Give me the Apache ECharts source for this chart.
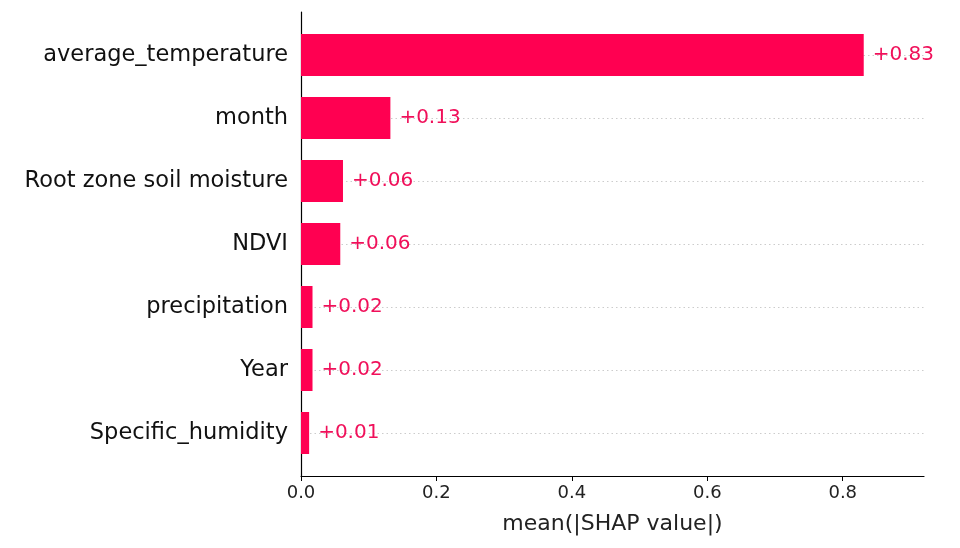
<!DOCTYPE html>
<html><head><meta charset="utf-8">
<script src="https://cdn.jsdelivr.net/npm/echarts@6/dist/echarts.min.js"></script>
<style>html,body{margin:0;padding:0;background:#fff}#c{width:960px;height:548px}</style>
</head><body><div id="c"></div>
<script>
var features = ["average_temperature","month","Root zone soil moisture","NDVI","precipitation","Year","Specific_humidity"];
var meanShap = [0.831, 0.132, 0.062, 0.058, 0.017, 0.017, 0.012];
var xTicks = [0.0, 0.2, 0.4, 0.6, 0.8];
var rowPositions = [0, 1, 2, 3, 4, 5, 6];

var chart = echarts.init(document.getElementById('c'));
var font = 'DejaVu Sans';
chart.setOption({
  animation: false,
  grid: [
    {left: 301, right: 36, top: 12, bottom: 72},
    {left: 301, right: 36, top: 23.5, bottom: 83.5}
  ],
  xAxis: [{
    gridIndex: 0, type: 'value', min: 0, max: 0.92, interval: 0.2,
    axisLine: {show: true, onZero: false, lineStyle: {color: '#000', width: 1.2}},
    axisTick: {show: true, length: 5, customValues: xTicks, lineStyle: {color: '#000', width: 1}},
    axisLabel: {fontFamily: font, fontSize: 18, color: '#222', margin: 8,
      customValues: xTicks, formatter: function(v){return v.toFixed(1);}},
    splitLine: {show: false},
    name: 'mean(|SHAP value|)', nameLocation: 'middle', nameGap: 37,
    nameTextStyle: {fontFamily: font, fontSize: 22, color: '#222'}
  }, {
    gridIndex: 1, type: 'value', min: 0, max: 0.92, show: false
  }],
  yAxis: [{
    gridIndex: 0, type: 'value', inverse: true, min: -0.68, max: 6.68,
    axisLine: {show: true, onZero: false, lineStyle: {color: '#000', width: 1.2}},
    axisTick: {show: false, customValues: rowPositions},
    axisLabel: {fontFamily: font, fontSize: 22.5, color: '#111', margin: 13,
      customValues: rowPositions,
      formatter: function(v){return features[Math.round(v)] || '';}},
    splitLine: {show: true, lineStyle: {color: '#ccc', type: [1.5, 3], width: 1}}
  }, {
    gridIndex: 1, type: 'category', inverse: true, data: features, show: false
  }],
  series: [{
    type: 'bar',
    xAxisIndex: 1, yAxisIndex: 1,
    barWidth: 42,
    itemStyle: {color: '#ff0051'},
    data: meanShap,
    label: {show: true, position: 'right', distance: 9, fontFamily: font, fontSize: 20,
      color: '#f0105a', formatter: function(p){return '+' + p.value.toFixed(2);}}
  }]
});
</script></body></html>
